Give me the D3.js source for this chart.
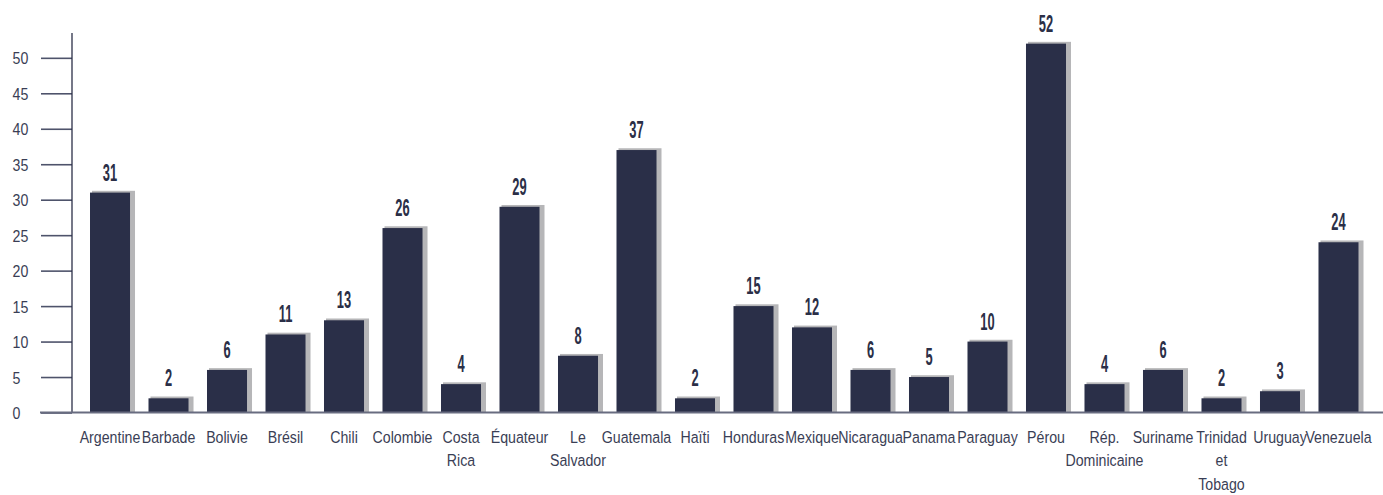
<!DOCTYPE html>
<html>
<head>
<meta charset="utf-8">
<script src="https://cdn.jsdelivr.net/npm/d3@7"></script>
<style>
  html, body { margin: 0; padding: 0; background: #ffffff; }
  svg { display: block; }
</style>
</head>
<body>
<svg id="chart" width="1383" height="495"></svg>
<script>
// Pays (axe des catégories) et valeurs affichées au-dessus des barres
const countries = [
  "Argentine", "Barbade", "Bolivie", "Brésil", "Chili", "Colombie", "Costa Rica",
  "Équateur", "Le Salvador", "Guatemala", "Haïti", "Honduras", "Mexique",
  "Nicaragua", "Panama", "Paraguay", "Pérou", "Rép. Dominicaine", "Suriname",
  "Trinidad et Tobago", "Uruguay", "Venezuela"
];
const values = [31, 2, 6, 11, 13, 26, 4, 29, 8, 37, 2, 15, 12, 6, 5, 10, 52, 4, 6, 2, 3, 24];
const yTicks = [0, 5, 10, 15, 20, 25, 30, 35, 40, 45, 50];

const W = 1383, H = 495;
const baseY = 412.5, topY = 33;
const xScaleH = 0.86;   // horizontal squeeze of the text glyphs

const svg = d3.select("#chart");

const x = d3.scaleBand()
  .domain(countries)
  .range([90, 1358.5])
  .paddingInner(0.316)
  .paddingOuter(0);

const y = d3.scaleLinear()
  .domain([0, 53.5])
  .range([baseY, topY]);

// Axe vertical
const yAxis = d3.axisLeft(y)
  .tickValues(yTicks)
  .tickSize(31)
  .tickPadding(0)
  .tickFormat(() => "");
const gy = svg.append("g").attr("transform", "translate(72,0)").call(yAxis);
gy.select(".domain").remove();
gy.selectAll(".tick line").attr("stroke", "#4e536b").attr("stroke-width", 1.6);

svg.append("line")
  .attr("x1", 72).attr("x2", 72)
  .attr("y1", topY).attr("y2", baseY)
  .attr("stroke", "#2b2f47").attr("stroke-width", 1.3);

// Libellés de l'axe vertical
svg.append("g").selectAll("text")
  .data(yTicks)
  .join("text")
  .attr("transform", d => `translate(12.5,${y(d) + 6.5}) scale(${xScaleH},1)`)
  .attr("font-family", "'Liberation Sans', Arial, sans-serif")
  .attr("font-size", 16.5)
  .attr("fill", "#3a3e55")
  .text(d => d);

// Barres : ombre grise puis barre principale
const bars = svg.append("g");
bars.selectAll("rect.shadow")
  .data(values)
  .join("rect")
  .attr("class", "shadow")
  .attr("x", (d, i) => x(countries[i]) + 2)
  .attr("y", d => y(d) - 1.8)
  .attr("width", x.bandwidth() + 3)
  .attr("height", d => baseY - y(d) + 1.8)
  .attr("fill", "#b6b6b8");
bars.selectAll("rect.bar")
  .data(values)
  .join("rect")
  .attr("class", "bar")
  .attr("x", (d, i) => x(countries[i]))
  .attr("y", d => y(d))
  .attr("width", x.bandwidth())
  .attr("height", d => baseY - y(d))
  .attr("fill", "#2a2f48");

// Axe horizontal
svg.append("line")
  .attr("x1", 40).attr("x2", W)
  .attr("y1", baseY).attr("y2", baseY)
  .attr("stroke", "#686c80").attr("stroke-width", 2);

// Valeurs au-dessus des barres
svg.append("g").selectAll("text")
  .data(values)
  .join("text")
  .attr("transform", (d, i) =>
    `translate(${x(countries[i]) + x.bandwidth() / 2},${y(d) - 12}) scale(0.56,1)`)
  .attr("text-anchor", "middle")
  .attr("font-family", "'Liberation Sans', Arial, sans-serif")
  .attr("font-weight", "bold")
  .attr("font-size", 23)
  .attr("fill", "#2b2f47")
  .text(d => d);

// Libellés des pays, repliés sur plusieurs lignes si besoin
const measure = svg.append("text")
  .attr("font-family", "'Liberation Sans', Arial, sans-serif")
  .attr("font-size", 16.5)
  .attr("visibility", "hidden");
function textWidth(s) {
  measure.text(s);
  return measure.node().getComputedTextLength() * xScaleH;
}
function wrap(label, maxW) {
  const words = label.split(" ");
  const lines = [];
  let cur = words[0];
  for (let k = 1; k < words.length; k++) {
    const test = cur + " " + words[k];
    if (textWidth(test) > maxW) { lines.push(cur); cur = words[k]; }
    else cur = test;
  }
  lines.push(cur);
  return lines;
}

const labels = svg.append("g").selectAll("text")
  .data(countries)
  .join("text")
  .attr("transform", d => `translate(${x(d) + x.bandwidth() / 2},443) scale(${xScaleH},1)`)
  .attr("text-anchor", "middle")
  .attr("font-family", "'Liberation Sans', Arial, sans-serif")
  .attr("font-size", 16.5)
  .attr("fill", "#3a3e55");
labels.each(function(d) {
  const lines = wrap(d, 55);
  d3.select(this).selectAll("tspan")
    .data(lines)
    .join("tspan")
    .attr("x", 0)
    .attr("dy", (l, j) => j === 0 ? 0 : 23.5)
    .text(l => l);
});
measure.remove();
</script>
</body>
</html>
